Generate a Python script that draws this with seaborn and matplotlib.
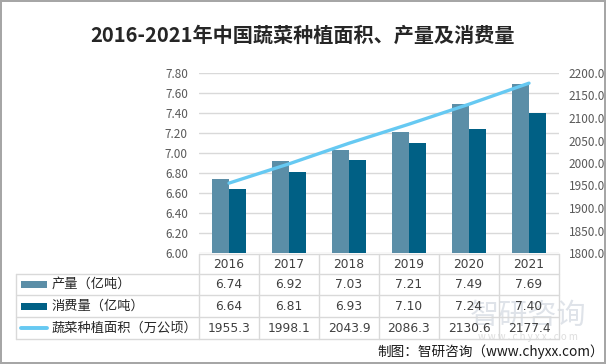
import numpy as np
import pandas as pd
import matplotlib
matplotlib.use("Agg")
import matplotlib.pyplot as plt
import seaborn as sns
from matplotlib.ticker import MultipleLocator, FormatStrFormatter

# data
years = ["2016", "2017", "2018", "2019", "2020", "2021"]
output = [6.74, 6.92, 7.03, 7.21, 7.49, 7.69]        # 产量（亿吨）
consumption = [6.64, 6.81, 6.93, 7.10, 7.24, 7.40]   # 消费量（亿吨）
area = [1955.3, 1998.1, 2043.9, 2086.3, 2130.6, 2177.4]  # 蔬菜种植面积（万公顷）

series_names = ["产量（亿吨）", "消费量（亿吨）", "蔬菜种植面积（万公顷）"]
title = "2016-2021年中国蔬菜种植面积、产量及消费量"
source = "制图：智研咨询（www.chyxx.com）"

c_output = "#5b8ea7"
c_cons = "#006085"
c_line = "#66c9f2"
c_grid = "#d9d9d9"
c_text = "#404040"

sns.set_theme(style="white")
plt.rcParams["font.family"] = ["Noto Sans CJK SC", "DejaVu Sans"]

W, H = 606, 364
fig = plt.figure(figsize=(W / 100, H / 100), dpi=100)
fig.patch.set_facecolor("white")
fig.patch.set_edgecolor("#a6a6a6")
fig.patch.set_linewidth(1.5)


def px_box(x0, y0, x1, y1):
    # pixel box (top-left origin) -> figure fraction rect
    return [x0 / W, 1 - y1 / H, (x1 - x0) / W, (y1 - y0) / H]


# ---- bars
ax = fig.add_axes(px_box(199, 73, 559, 253))
df = pd.DataFrame({
    "year": years * 2,
    "value": output + consumption,
    "series": [series_names[0]] * len(years) + [series_names[1]] * len(years),
})
sns.barplot(data=df, x="year", y="value", hue="series",
            palette=[c_output, c_cons], width=0.57, saturation=1,
            linewidth=0, legend=False, ax=ax)
ax.set_ylim(6.0, 7.8)
ax.set_xlim(-0.5, len(years) - 0.5)
ax.yaxis.set_major_locator(MultipleLocator(0.2))
ax.yaxis.set_major_formatter(FormatStrFormatter("%.2f"))
ax.grid(axis="y", color=c_grid, linewidth=1)
ax.set_axisbelow(True)
ax.set_xlabel("")
ax.set_ylabel("")
ax.set_xticklabels([])
ax.tick_params(axis="y", length=0, pad=8, labelsize=8.5, labelcolor="#595959")
ax.tick_params(axis="x", length=0)
for s in ax.spines.values():
    s.set_visible(False)

# ---- line on secondary axis
ax2 = ax.twinx()
sns.lineplot(x=years, y=area, color=c_line, linewidth=2.4, ax=ax2)
ax2.set_ylim(1800, 2200)
ax2.yaxis.set_major_locator(MultipleLocator(50))
ax2.yaxis.set_major_formatter(FormatStrFormatter("%.1f"))
ax2.tick_params(axis="y", length=0, pad=7, labelsize=8.5, labelcolor="#595959")
ax2.set_ylabel("")
for s in ax2.spines.values():
    s.set_visible(False)

# ---- data table (pixel coordinates)
tab = fig.add_axes([0, 0, 1, 1], facecolor="none")
tab.set_xlim(0, W)
tab.set_ylim(H, 0)
tab.axis("off")

col0, col_w = 199, 60
left = 16
rows = [254, 274, 295, 317, 339]
ncol = len(years)
right = col0 + col_w * ncol

tab.plot([col0, right], [rows[0], rows[0]], color=c_grid, lw=1)
for y in rows[1:]:
    tab.plot([left, right], [y, y], color=c_grid, lw=1)
tab.plot([left, left], [rows[1], rows[-1]], color=c_grid, lw=1)
for i in range(ncol + 1):
    x = col0 + col_w * i
    tab.plot([x, x], [rows[0], rows[-1]], color=c_grid, lw=1)

# watermark (drawn under the table text)
tab.text(528, 316, "智研咨询", ha="center", va="center",
         fontsize=21, color="#c5cdd8", alpha=0.55, zorder=0)
tab.text(528, 337, "w w w . c h y x x . c o m", ha="center",
         va="center", fontsize=7, color="#c8c8c8", alpha=0.6, zorder=0)

fs = 9.5
nfs = 8.8
for i, yr in enumerate(years):
    cx = col0 + col_w * (i + 0.5)
    cells = [yr, f"{output[i]:.2f}", f"{consumption[i]:.2f}", f"{area[i]:.1f}"]
    for r, txt in enumerate(cells):
        tab.text(cx, (rows[r] + rows[r + 1]) / 2 + 0.5, txt, ha="center",
                 va="center", fontsize=nfs, color=c_text,
                 family="DejaVu Sans", zorder=3)

# legend keys in the label column
for k, (name, col) in enumerate(zip(series_names, [c_output, c_cons, c_line])):
    cy = (rows[k + 1] + rows[k + 2]) / 2
    if k < 2:
        tab.add_patch(plt.Rectangle((21, cy - 3.5), 26, 7, color=col, lw=0))
    else:
        tab.plot([21, 47], [cy, cy], color=col, lw=2.8, solid_capstyle="round")
    tab.text(52, cy, name, ha="left", va="center", fontsize=fs, color="#262626")

# ---- titles and marks
fig.text(0.5, 1 - 35 / H, title, ha="center", va="center", fontsize=14.5,
         fontweight="bold", color="#262626")

fig.text(604 / W, 1 - 352 / H, source, ha="right", va="center", fontsize=9.8,
         color="#1a1a1a")

fig.savefig("out.png", dpi=100, facecolor=fig.get_facecolor(),
            edgecolor=fig.get_edgecolor())
